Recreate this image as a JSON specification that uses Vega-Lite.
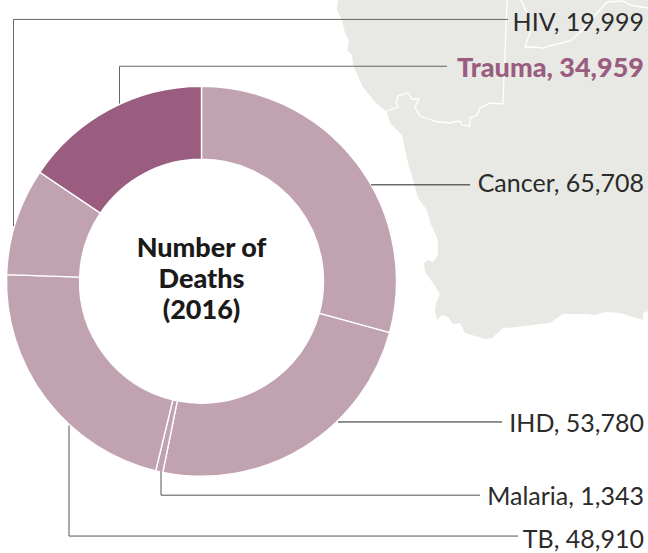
{
"$schema":"https://vega.github.io/schema/vega-lite/v6.json",
"width":648,"height":553,"padding":0,"autosize":{"type":"fit","contains":"padding"},
"background":"white","view":{"stroke":null},
"datasets":{"leaders":[
{"leader":"HIV","step":1,"px":13.5,"py":227},{"leader":"HIV","step":2,"px":13.5,"py":19.5},{"leader":"HIV","step":3,"px":508,"py":19.5},
{"leader":"Trauma","step":1,"px":119.5,"py":104},{"leader":"Trauma","step":2,"px":119.5,"py":66.5},{"leader":"Trauma","step":3,"px":447,"py":66.5},
{"leader":"Cancer","step":1,"px":371,"py":185.5},{"leader":"Cancer","step":2,"px":470,"py":185.5},
{"leader":"IHD","step":1,"px":338,"py":423.5},{"leader":"IHD","step":2,"px":502,"py":423.5},
{"leader":"Malaria","step":1,"px":161,"py":473},{"leader":"Malaria","step":2,"px":161,"py":497},{"leader":"Malaria","step":3,"px":480,"py":497},
{"leader":"TB","step":1,"px":69,"py":427},{"leader":"TB","step":2,"px":69,"py":538},{"leader":"TB","step":3,"px":518,"py":538}]},
"layer":[
{"data":{"values":[{"type":"Feature","properties":{"name":"land"},"geometry":{"type":"Polygon","coordinates":[[[338,0],[337,10],[342,20],[345,33],[349,41],[347,50],[352,55],[353,65],[363,87],[375,102],[387,112],[390,123],[402,135],[408,163],[415,187],[418,198],[427,210],[430,222],[438,240],[438,255],[433,262],[428,260],[424,263],[425,272],[433,283],[440,294],[436,303],[435,312],[437,320],[442,315],[448,317],[453,324],[460,323],[465,333],[485,339],[492,338],[503,328],[517,327],[533,325],[550,323],[563,314],[587,314],[595,315],[605,312],[620,313],[643,320],[643,313],[648,311],[648,0],[338,0]]]}}]},
"mark":{"type":"geoshape","fill":"#e8e9e4","stroke":null},
"projection":{"type":"identity","scale":1,"translate":[0,0]}},
{"data":{"values":[{"type":"Feature","properties":{"name":"border1"},"geometry":{"type":"LineString","coordinates":[[507,0],[503,104],[490,103],[480,108],[477,115],[470,118],[470,126],[462,125],[460,121],[453,122],[450,123],[438,122],[420,116],[415,107],[419,99],[412,99],[408,93],[398,96],[396,102],[398,107],[387,111]]}},{"type":"Feature","properties":{"name":"border2"},"geometry":{"type":"LineString","coordinates":[[521,0],[527,13],[530,33],[525,47],[533,47],[543,48],[553,45],[570,41],[583,30],[597,13],[607,2],[623,1],[630,5],[648,8]]}}]},
"mark":{"type":"geoshape","filled":false,"fill":null,"stroke":"white","strokeWidth":1.3},
"projection":{"type":"identity","scale":1,"translate":[0,0]}},
{"data":{"values":[
{"cause":"Cancer","deaths":65708,"rank":1,"group":"other"},
{"cause":"IHD","deaths":53780,"rank":2,"group":"other"},
{"cause":"Malaria","deaths":1343,"rank":3,"group":"other"},
{"cause":"TB","deaths":48910,"rank":4,"group":"other"},
{"cause":"HIV","deaths":19999,"rank":5,"group":"other"},
{"cause":"Trauma","deaths":34959,"rank":6,"group":"highlight"}]},
"mark":{"type":"arc","innerRadius":122,"outerRadius":195,"stroke":"white","strokeWidth":1.4},
"encoding":{
"theta":{"field":"deaths","type":"quantitative","stack":true},
"order":{"field":"rank","type":"ordinal"},
"x":{"datum":201.5,"type":"quantitative","scale":{"domain":[0,648],"nice":false,"zero":false},"axis":null},
"y":{"datum":282.3,"type":"quantitative","scale":{"domain":[553,0],"nice":false,"zero":false},"axis":null},
"color":{"field":"group","type":"nominal","scale":{"domain":["other","highlight"],"range":["#c0a2b1","#9a5d7f"]},"legend":null}}},
{"data":{"name":"leaders"},"transform":[{"filter":"datum.leader==='HIV'||datum.leader==='Trauma'"}],
"mark":{"type":"line","stroke":"#666666","strokeWidth":1},
"encoding":{
"x":{"field":"px","type":"quantitative","scale":{"domain":[0,648],"nice":false,"zero":false},"axis":null},
"y":{"field":"py","type":"quantitative","scale":{"domain":[553,0],"nice":false,"zero":false},"axis":null},
"detail":{"field":"leader"},"order":{"field":"step","type":"quantitative"}}},
{"data":{"name":"leaders"},"transform":[{"filter":"datum.leader==='Cancer'||datum.leader==='IHD'"}],
"mark":{"type":"line","stroke":"#222222","strokeWidth":1},
"encoding":{
"x":{"field":"px","type":"quantitative","scale":{"domain":[0,648],"nice":false,"zero":false},"axis":null},
"y":{"field":"py","type":"quantitative","scale":{"domain":[553,0],"nice":false,"zero":false},"axis":null},
"detail":{"field":"leader"},"order":{"field":"step","type":"quantitative"}}},
{"data":{"name":"leaders"},"transform":[{"filter":"datum.leader==='Malaria'||datum.leader==='TB'"}],
"mark":{"type":"line","stroke":"#555555","strokeWidth":1},
"encoding":{
"x":{"field":"px","type":"quantitative","scale":{"domain":[0,648],"nice":false,"zero":false},"axis":null},
"y":{"field":"py","type":"quantitative","scale":{"domain":[553,0],"nice":false,"zero":false},"axis":null},
"detail":{"field":"leader"},"order":{"field":"step","type":"quantitative"}}},
{"data":{"values":[
{"label":"HIV, 19,999","px":644,"py":31},
{"label":"Cancer, 65,708","px":644,"py":193},
{"label":"IHD, 53,780","px":644,"py":434},
{"label":"Malaria, 1,343","px":644,"py":507},
{"label":"TB, 48,910","px":644,"py":550}]},
"mark":{"type":"text","align":"right","baseline":"alphabetic","font":"Lato","fontSize":25,"fill":"#2b2b2b"},
"encoding":{
"x":{"field":"px","type":"quantitative","scale":{"domain":[0,648],"nice":false,"zero":false},"axis":null},
"y":{"field":"py","type":"quantitative","scale":{"domain":[553,0],"nice":false,"zero":false},"axis":null},
"text":{"field":"label"}}},
{"data":{"values":[{"label":"Trauma, 34,959","px":644,"py":77}]},
"mark":{"type":"text","align":"right","baseline":"alphabetic","font":"Lato","fontSize":27,"fontWeight":900,"fill":"#9a5d7f"},
"encoding":{
"x":{"field":"px","type":"quantitative","scale":{"domain":[0,648],"nice":false,"zero":false},"axis":null},
"y":{"field":"py","type":"quantitative","scale":{"domain":[553,0],"nice":false,"zero":false},"axis":null},
"text":{"field":"label"}}},
{"data":{"values":[
{"label":"Number of","px":201.5,"py":258},
{"label":"Deaths","px":201.5,"py":289},
{"label":"(2016)","px":201.5,"py":320}]},
"mark":{"type":"text","align":"center","baseline":"alphabetic","font":"Lato","fontSize":27,"fontWeight":900,"fill":"#1a1a1a"},
"encoding":{
"x":{"field":"px","type":"quantitative","scale":{"domain":[0,648],"nice":false,"zero":false},"axis":null},
"y":{"field":"py","type":"quantitative","scale":{"domain":[553,0],"nice":false,"zero":false},"axis":null},
"text":{"field":"label"}}}
]}
